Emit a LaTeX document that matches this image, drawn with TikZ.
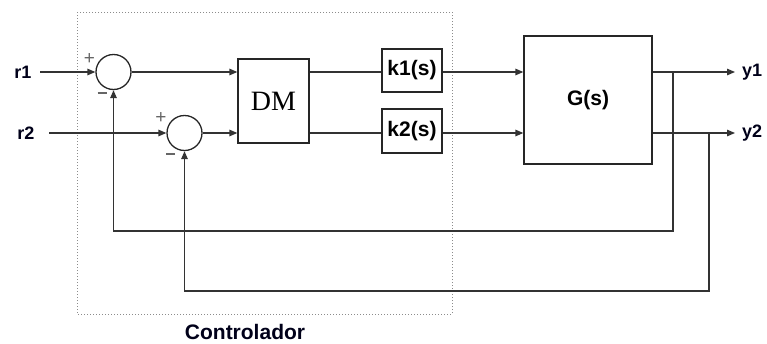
\documentclass[tikz,border=0pt]{standalone}
\usepackage{fontspec}
\setmainfont{Liberation Sans}
\newfontfamily\dmfont{Liberation Serif}
\usetikzlibrary{arrows.meta}
\begin{document}
\begin{tikzpicture}[x=1pt,y=-1pt,
  wire/.style={line width=1.3pt,draw=black!80},
  arr/.style={wire,-{Triangle[length=8pt,width=6.5pt]}},
  sumnode/.style={circle,draw=black!85,line width=1.3pt,minimum size=35pt,inner sep=0pt},
  blk/.style={draw=black!85,line width=1.3pt,inner sep=0pt,fill=white},
  lbl/.style={font=\bfseries\fontsize{18}{18}\selectfont,text=black!90!blue},
  sgn/.style={text=black!60,inner sep=0pt}]
\useasboundingbox (0,0) rectangle (767,343);
% controller frame
\draw[black!45,dotted,line width=1pt] (77,12) rectangle (452,314);
\node[font=\bfseries\fontsize{21}{21}\selectfont,text=black!90!blue] (ctl) at (245,332) {Controlador};
% blocks
\node[sumnode] (s1) at (113.5,72) {};
\node[sumnode] (s2) at (184.5,133) {};
\node[blk,minimum width=71pt,minimum height=84pt] (dm) at (273.5,101) {\dmfont\fontsize{28}{28}\selectfont DM};
\node[blk,minimum width=60pt,minimum height=43pt] (k1) at (412,70.5) {\bfseries\fontsize{21}{21}\selectfont k1(s)};
\node[blk,minimum width=60pt,minimum height=44pt] (k2) at (412,131) {\bfseries\fontsize{21}{21}\selectfont k2(s)};
\node[blk,minimum width=128pt,minimum height=128pt] (g) at (588,100) {\bfseries\fontsize{21}{21}\selectfont G(s)};
% labels
\node[lbl] (r1) at (23,72) {r1};
\node[lbl] (r2) at (26,133) {r2};
\node[lbl] (y1) at (752,72) {y1};
\node[lbl] (y2) at (752,133) {y2};
\node[sgn] (p1) at (89.5,59) {\fontsize{19}{19}\selectfont +};
\node[sgn] (m1) at (102,93) {\rule{9pt}{1.4pt}};
\node[sgn] (p2) at (161,118) {\fontsize{19}{19}\selectfont +};
\node[sgn] (m2) at (170.5,154) {\rule{9pt}{1.4pt}};
% coordinates
\coordinate (r1e) at (40,72);
\coordinate (r2e) at (49,133);
\coordinate (y1e) at (735,72);
\coordinate (y2e) at (735,133);
\coordinate (b1) at (673,72);
\coordinate (b2) at (709,133);
\coordinate (c1) at (673,231);
\coordinate (d1) at (113.5,231);
\coordinate (c2) at (709,291);
\coordinate (d2) at (184.5,291);
% connectors
\draw[arr] (r1e) -- (s1.west);
\draw[arr] (r2e) -- (s2.west);
\draw[arr] (s1.east) -- (s1.east -| dm.west);
\draw[arr] (s2.east) -- (s2.east -| dm.west);
\draw[wire] (dm.east |- s1) -- (k1.west |- s1);
\draw[wire] (dm.east |- s2) -- (k2.west |- s2);
\draw[arr] (k1.east |- s1) -- (g.west |- s1);
\draw[arr] (k2.east |- s2) -- (g.west |- s2);
\draw[arr] (g.east |- s1) -- (y1e);
\draw[arr] (g.east |- s2) -- (y2e);
\draw[arr] (b1) -- (c1) -- (d1) -- (s1.south);
\draw[arr] (b2) -- (c2) -- (d2) -- (s2.south);
\end{tikzpicture}
\end{document}
